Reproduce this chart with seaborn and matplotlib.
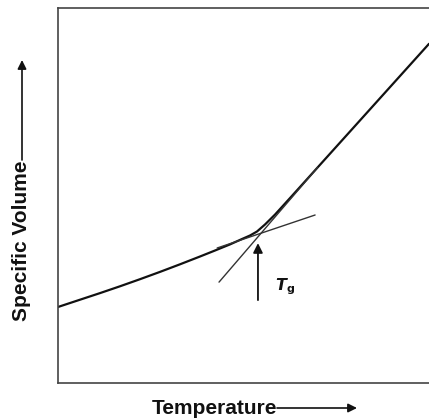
import matplotlib
matplotlib.use("Agg")
import matplotlib.pyplot as plt
import seaborn as sns
import pandas as pd

# Main specific-volume curve (normalised axes units)
curve_temp = [0.0, 0.0593, 0.1132, 0.1671, 0.2210, 0.2749, 0.3288, 0.3827, 0.4232,
              0.4636, 0.4960, 0.5175, 0.5364, 0.5580, 0.5849, 0.6253, 0.6523, 0.7871, 1.0]
curve_vol = [0.2027, 0.2221, 0.2397, 0.2579, 0.2768, 0.2963, 0.3165, 0.3373, 0.3533,
             0.3696, 0.3840, 0.3933, 0.4040, 0.4227, 0.4491, 0.4931, 0.5227, 0.6707, 0.9045]

# Tangent (extrapolated) lines
glass_temp = [0.429, 0.693]
glass_vol = [0.360, 0.448]
liquid_temp = [0.434, 0.700]
liquid_vol = [0.269, 0.575]

# Tg marker
tg_temp = 0.539
tg_arrow_vol = [0.221, 0.373]
tg_label = r"$\mathbfit{T}_{\mathbf{g}}$"

x_label = "Temperature"
y_label = "Specific Volume"

sns.set_theme(style="white")
plt.rcParams['font.family'] = ['Liberation Sans', 'DejaVu Sans']

fig = plt.figure(figsize=(4.29, 4.19), dpi=100)
ax = fig.add_axes([58/429, 36/419, 371/429, 375/419])

df = pd.DataFrame({"T": curve_temp, "V": curve_vol})
sns.lineplot(data=df, x="T", y="V", sort=False, estimator=None, ax=ax,
             color="#111111", linewidth=1.6)
sns.lineplot(x=glass_temp, y=glass_vol, sort=False, estimator=None, ax=ax,
             color="#333333", linewidth=1.0)
sns.lineplot(x=liquid_temp, y=liquid_vol, sort=False, estimator=None, ax=ax,
             color="#333333", linewidth=1.0)

ax.annotate("", xy=(tg_temp, tg_arrow_vol[1]), xytext=(tg_temp, tg_arrow_vol[0]),
            arrowprops=dict(arrowstyle="-|>", color="#111111", lw=1.3,
                            mutation_scale=14, shrinkA=0, shrinkB=0))
ax.text(0.585, 0.256, tg_label, fontsize=11.5, color="#111111", ha="left", va="center")

ax.set_xlim(0, 1)
ax.set_ylim(0, 1)
ax.set_xticks([])
ax.set_yticks([])
ax.set_xlabel("")
ax.set_ylabel("")
for side in ["left", "bottom", "top"]:
    ax.spines[side].set_color("#444444")
    ax.spines[side].set_linewidth(1.2)
ax.spines["right"].set_visible(False)

# Axis labels with arrows
fig.text(152/429, 1 - 408/419, x_label, fontsize=15, fontweight="bold",
         ha="left", va="center", color="#111111")
fig.patches.append(matplotlib.patches.FancyArrowPatch(
    (277/429, 1 - 408/419), (357/429, 1 - 408/419), transform=fig.transFigure,
    arrowstyle="-|>", mutation_scale=13, color="#111111", lw=1.2,
    shrinkA=0, shrinkB=0))

fig.text(22/429, 1 - 241/419, y_label, fontsize=15, fontweight="bold",
         rotation=90, ha="center", va="center", color="#111111")
fig.patches.append(matplotlib.patches.FancyArrowPatch(
    (22/429, 1 - 160/419), (22/429, 1 - 60/419), transform=fig.transFigure,
    arrowstyle="-|>", mutation_scale=13, color="#111111", lw=1.2,
    shrinkA=0, shrinkB=0))

fig.savefig("out.png", dpi=100)
